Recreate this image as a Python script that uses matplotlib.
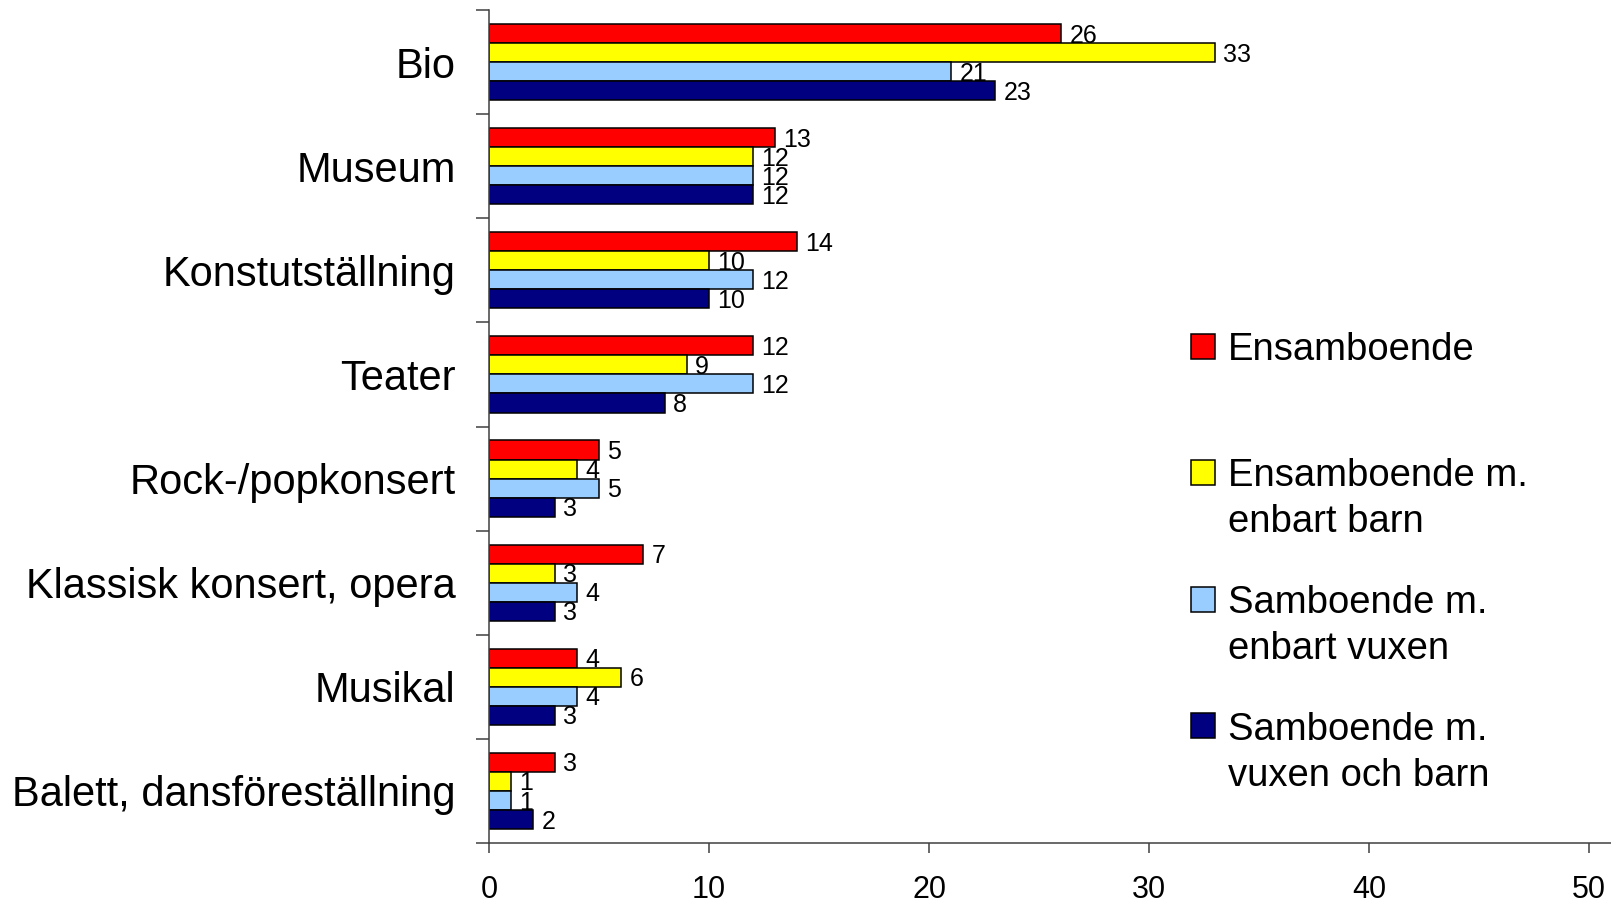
import numpy as np
import matplotlib
matplotlib.use("Agg")
import matplotlib.pyplot as plt
from matplotlib.patches import Rectangle

plt.rcParams['font.family'] = ['Liberation Sans', 'DejaVu Sans']

categories = ["Bio", "Museum", "Konstutställning", "Teater", "Rock-/popkonsert",
              "Klassisk konsert, opera", "Musikal", "Balett, dansföreställning"]
series_names = ["Ensamboende", "Ensamboende m.\nenbart barn",
                "Samboende m.\nenbart vuxen", "Samboende m.\nvuxen och barn"]
ensam = [26, 13, 14, 12, 5, 7, 4, 3]
ensam_barn = [33, 12, 10, 9, 4, 3, 6, 1]
sambo_vuxen = [21, 12, 12, 12, 5, 4, 4, 1]
sambo_barn = [23, 12, 10, 8, 3, 3, 3, 2]
colors = ["#FF0000", "#FFFF00", "#99CCFF", "#000080"]
x_ticks = [0, 10, 20, 30, 40, 50]

W, H = 1611, 902
fig = plt.figure(figsize=(W / 100, H / 100), dpi=100)
ax = fig.add_axes([489 / W, (H - 843) / H, (W - 489) / W, (843 - 10) / H])

values = [ensam, ensam_barn, sambo_vuxen, sambo_barn]
y = np.arange(len(categories))
h = 0.183
for i, (vals, col) in enumerate(zip(values, colors)):
    pos = y + (i - 1.5) * h
    bars = ax.barh(pos, vals, height=h, color=col, edgecolor="black", linewidth=1.1)
    for b, v in zip(bars, vals):
        ax.annotate(str(v), (b.get_width(), b.get_y() + b.get_height() / 2),
                    xytext=(6, -1.5), textcoords="offset points",
                    va="center", ha="left", fontsize=18)

ax.set_xlim(0, (W - 489) / 22)
ax.set_ylim(len(categories) - 0.5, -0.5)

ax.set_xticks(x_ticks)
ax.set_xticklabels([str(t) for t in x_ticks], fontsize=22)
ax.tick_params(axis="x", direction="out", length=7, width=1.1, color="#404040", pad=16)

ax.set_yticks(y)
ax.set_yticklabels(categories, fontsize=30)
ax.set_yticks(np.arange(len(categories) + 1) - 0.5, minor=True)
ax.tick_params(axis="y", which="major", length=0, pad=24)
ax.tick_params(axis="y", which="minor", direction="out", length=9.5, width=1.1, color="#404040")

for s in ["top", "right"]:
    ax.spines[s].set_visible(False)
for s in ["left", "bottom"]:
    ax.spines[s].set_color("#404040")
    ax.spines[s].set_linewidth(1.1)

# legend, drawn by hand so the box lines up with the first text line
for i, (name, col) in enumerate(zip(series_names, colors)):
    yc = 346 + i * 126.5
    fig.add_artist(Rectangle((1191 / W, (H - yc - 12.5) / H), 24 / W, 25 / H,
                             transform=fig.transFigure, facecolor=col,
                             edgecolor="black", linewidth=1.1))
    for j, line in enumerate(name.split("\n")):
        fig.text(1228 / W, (H - yc - 4 - j * 46) / H, line, fontsize=27.5,
                 va="center", ha="left")

fig.savefig("out.png", dpi=100)
